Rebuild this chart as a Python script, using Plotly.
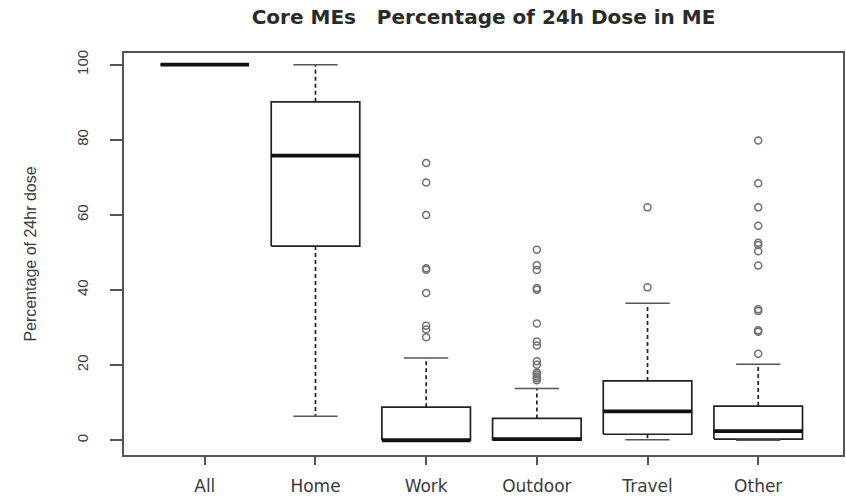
import plotly.graph_objects as go

# Share of the 24h dose received in each core micro-environment (%)
categories = ["All", "Home", "Work", "Outdoor", "Travel", "Other"]
q1 = [100, 51.7, 0.0, 0.0, 1.6, 0.3]
median = [100, 75.8, 0.0, 0.3, 7.7, 2.4]
q3 = [100, 90.1, 8.8, 5.8, 15.8, 9.1]
whisker_low = [100, 6.4, 0.0, 0.0, 0.1, 0.0]
whisker_high = [100, 100, 21.9, 13.8, 36.5, 20.2]
outliers = {
    "All": [],
    "Home": [],
    "Work": [73.8, 68.6, 60.0, 45.8, 45.4, 39.2, 30.5, 29.5, 27.4],
    "Outdoor": [50.7, 46.6, 45.3, 40.5, 40.1, 31.1, 26.3, 25.2, 21.0, 20.1,
                18.0, 17.5, 17.0, 16.5, 16.0],
    "Travel": [62.0, 40.7],
    "Other": [79.8, 68.4, 62.0, 57.1, 52.6, 52.0, 50.3, 46.5, 34.9, 34.4,
              29.3, 28.9, 23.0],
}
y_ticks = [0, 20, 40, 60, 80, 100]

BOX_HALF = 0.4
CAP_HALF = 0.2
INK = "#222222"

fig = go.Figure()

for i, cat in enumerate(categories):
    x = i + 1
    # box outline
    fig.add_trace(go.Scatter(
        x=[x - BOX_HALF, x + BOX_HALF, x + BOX_HALF, x - BOX_HALF, x - BOX_HALF],
        y=[q1[i], q1[i], q3[i], q3[i], q1[i]],
        mode="lines", line=dict(color=INK, width=1.7),
        fill="toself", fillcolor="white", hoverinfo="skip", showlegend=False))
    # dashed whiskers
    fig.add_trace(go.Scatter(
        x=[x, x, None, x, x],
        y=[q3[i], whisker_high[i], None, q1[i], whisker_low[i]],
        mode="lines", line=dict(color=INK, width=1.7, dash="4px,3px"),
        hoverinfo="skip", showlegend=False))
    # whisker caps
    fig.add_trace(go.Scatter(
        x=[x - CAP_HALF, x + CAP_HALF, None, x - CAP_HALF, x + CAP_HALF],
        y=[whisker_high[i], whisker_high[i], None, whisker_low[i], whisker_low[i]],
        mode="lines", line=dict(color="#555555", width=1.5),
        hoverinfo="skip", showlegend=False))
    # median
    fig.add_trace(go.Scatter(
        x=[x - BOX_HALF, x + BOX_HALF], y=[median[i], median[i]],
        mode="lines", line=dict(color="#111111", width=3.8),
        hoverinfo="skip", showlegend=False))
    # outlying values
    pts = outliers[cat]
    if pts:
        fig.add_trace(go.Scatter(
            x=[x] * len(pts), y=pts, mode="markers",
            marker=dict(symbol="circle-open", size=7, color="#707070",
                        line=dict(width=1.5)),
            hoverinfo="skip", showlegend=False))

fig.update_layout(
    width=846, height=497,
    margin=dict(l=124, r=1, t=53, b=35),
    paper_bgcolor="white", plot_bgcolor="white",
    font=dict(family="DejaVu Sans, sans-serif", color="#333333"),
    title=dict(text="<b>Core MEs   Percentage of 24h Dose in ME</b>",
               x=0.5, xref="paper", xanchor="center",
               y=0.965, yref="container", yanchor="middle",
               font=dict(family="DejaVu Sans", size=20, color="#2a2a2a")),
)

fig.update_xaxes(
    range=[0.27, 6.766], tickmode="array",
    tickvals=list(range(1, len(categories) + 1)), ticktext=categories,
    showgrid=False, zeroline=False,
    showline=True, linecolor="#555555", linewidth=1.5, mirror=True,
    ticks="outside", ticklen=8, tickwidth=1.5, tickcolor="#555555",
    ticklabelstandoff=7,
    tickfont=dict(family="DejaVu Sans", size=17, color="#3a3a3a"))

fig.update_yaxes(
    range=[-3.93, 103.1], tickmode="array", tickvals=y_ticks,
    ticktext=[str(v) for v in y_ticks], tickangle=-90,
    showgrid=False, zeroline=False,
    showline=True, linecolor="#555555", linewidth=1.5, mirror=True,
    ticks="outside", ticklen=12, tickwidth=1.5, tickcolor="#555555",
    ticklabelstandoff=16,
    tickfont=dict(family="Liberation Sans", size=15, color="#3a3a3a"),
    title=dict(text="Percentage of 24hr dose", standoff=34,
               font=dict(family="Liberation Sans", size=16, color="#3a3a3a")))

fig.write_html("out.html")
